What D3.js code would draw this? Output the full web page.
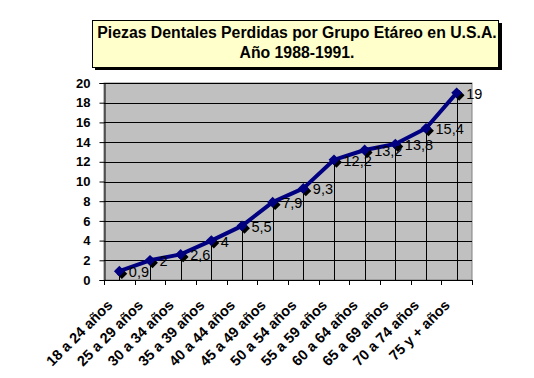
<!DOCTYPE html>
<html><head><meta charset="utf-8">
<script src="https://cdn.jsdelivr.net/npm/d3@7"></script>
<style>body{margin:0;background:#fff}svg{display:block}text{font-family:"Liberation Sans",Arial,sans-serif}</style>
</head><body>
<svg id="c" width="534" height="378"></svg>
<script>
const categories = ["18 a 24 años","25 a 29 años","30 a 34 años","35 a 39 años","40 a 44 años","45 a 49 años","50 a 54 años","55 a 59 años","60 a 64 años","65 a 69 años","70 a 74 años","75 y + años"];
const values = [0.9, 2, 2.6, 4, 5.5, 7.9, 9.3, 12.2, 13.2, 13.8, 15.4, 19];
const labels = ["0,9","2","2,6","4","5,5","7,9","9,3","12,2","13,2","13,8","15,4","19"];
const yTicks = [0,2,4,6,8,10,12,14,16,18,20];
const titleLines = ["Piezas Dentales Perdidas por Grupo Etáreo en U.S.A.","Año 1988-1991."];

const svg = d3.select("#c");
const m = {l:104, r:472, t:83, b:280};
const x = d3.scaleBand().domain(categories).range([m.l, m.r]);
const y = d3.scaleLinear().domain([0,20]).range([m.b, m.t]);

// title box
svg.append("rect").attr("x",95).attr("y",23).attr("width",407).attr("height",47).attr("fill","#000");
svg.append("rect").attr("x",92.5).attr("y",20.5).attr("width",406).attr("height",47).attr("fill","#ffffcc").attr("stroke","#000").attr("stroke-width",1);
svg.selectAll(".tt").data(titleLines).enter().append("text")
  .attr("x",297).attr("y",(d,i)=>37.5+i*20.5).attr("text-anchor","middle")
  .attr("font-size",15.8).attr("font-weight","bold").text(d=>d);

// plot background
svg.append("rect").attr("x",m.l).attr("y",m.t).attr("width",m.r-m.l).attr("height",m.b-m.t)
  .attr("fill","#c0c0c0").attr("stroke","#808080").attr("stroke-width",1);

// grid
svg.append("g").selectAll("line").data(yTicks.slice(1)).enter().append("line")
  .attr("x1",m.l).attr("x2",m.r).attr("y1",d=>Math.round(y(d))+0.5).attr("y2",d=>Math.round(y(d))+0.5)
  .attr("stroke","#000").attr("stroke-width",1);

// drop lines
svg.append("g").selectAll("line").data(values).enter().append("line")
  .attr("x1",(d,i)=>Math.round(x(categories[i])+x.bandwidth()/2)+0.5)
  .attr("x2",(d,i)=>Math.round(x(categories[i])+x.bandwidth()/2)+0.5)
  .attr("y1",d=>y(d)).attr("y2",m.b).attr("stroke","#000").attr("stroke-width",1);

// y axis
const ya = svg.append("g").attr("transform",`translate(${m.l+0.5},0)`)
  .call(d3.axisLeft(y).tickValues(yTicks).tickSize(5).tickPadding(9).tickFormat(d3.format("d")));
ya.select(".domain").attr("stroke","#000");
ya.selectAll("text").attr("font-size",13).attr("font-weight","bold").attr("font-family","Liberation Sans, Arial").attr("fill","#000");

// x axis
const xa = svg.append("g").attr("transform",`translate(0,${m.b+0.5})`)
  .call(d3.axisBottom(x).tickSize(0).tickFormat(""));
xa.select(".domain").attr("stroke","#000").attr("d",`M${m.l},0H${m.r}`);
svg.append("g").selectAll("line").data(d3.range(categories.length+1)).enter().append("line")
  .attr("x1",i=>Math.round(m.l+i*x.step())+0.5).attr("x2",i=>Math.round(m.l+i*x.step())+0.5)
  .attr("y1",m.b).attr("y2",m.b+5).attr("stroke","#000");
svg.append("g").selectAll("text").data(categories).enter().append("text")
  .attr("transform",d=>`translate(${x(d)+x.bandwidth()/2-6},${m.b+26}) rotate(-45)`)
  .attr("text-anchor","end").attr("font-size",14.5).attr("font-weight","bold").text(d=>d);

// line + markers
const pts = values.map((v,i)=>[x(categories[i])+x.bandwidth()/2, y(v)]);
const line = d3.line();
svg.append("path").attr("d",line(pts)).attr("fill","none").attr("stroke","#000080").attr("stroke-width",4).attr("stroke-linejoin","round");
const sym = d3.symbol().type(d3.symbolDiamond2).size(75);
svg.append("g").selectAll("path").data(pts).enter().append("path")
  .attr("d",sym).attr("transform",p=>`translate(${p[0]+2.5},${p[1]+2.5})`).attr("fill","#000");
svg.append("g").selectAll("path").data(pts).enter().append("path")
  .attr("d",sym).attr("transform",p=>`translate(${p[0]},${p[1]})`).attr("fill","#000080");

// data labels
svg.append("g").selectAll("text").data(pts).enter().append("text")
  .attr("x",p=>p[0]+9.5).attr("y",p=>p[1]+6).attr("font-size",14.5).attr("fill","#000")
  .text((p,i)=>labels[i]);
</script>
</body></html>
